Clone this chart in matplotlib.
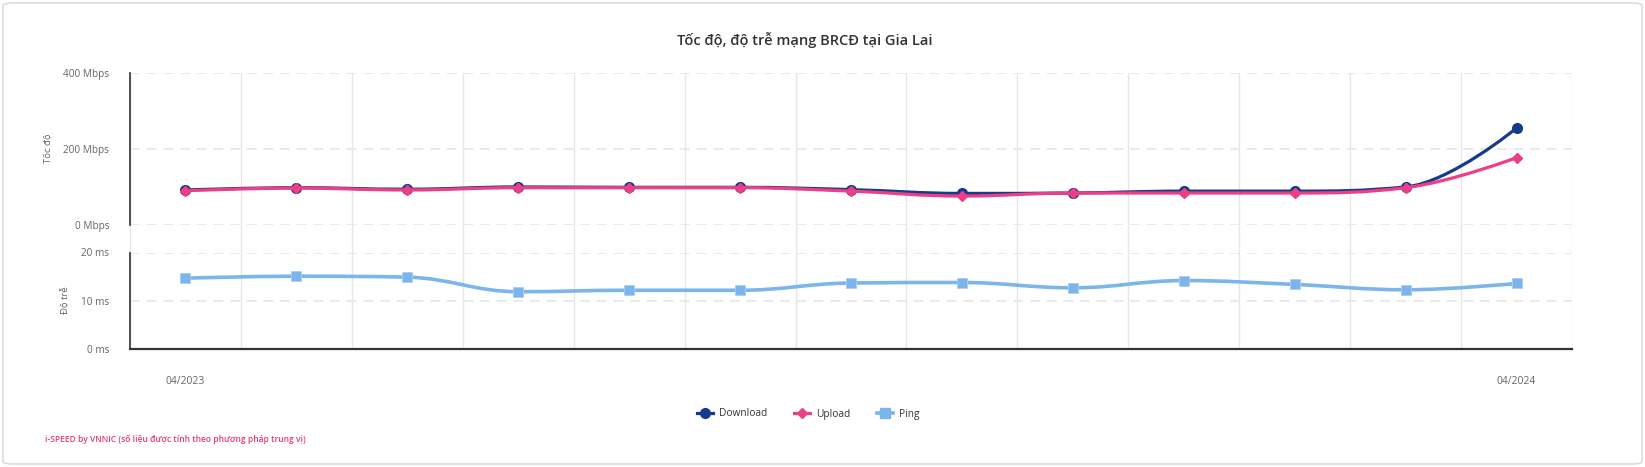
import matplotlib
matplotlib.use("Agg")
import matplotlib.pyplot as plt
from matplotlib.path import Path
from matplotlib.patches import PathPatch, FancyBboxPatch
from matplotlib.lines import Line2D

plt.rcParams['font.family'] = ['Open Sans', 'DejaVu Sans']

# Data
months = ["04/2023", "05/2023", "06/2023", "07/2023", "08/2023", "09/2023", "10/2023",
          "11/2023", "12/2023", "01/2024", "02/2024", "03/2024", "04/2024"]
download = [93, 99, 95, 101, 100, 100, 94, 84, 85, 90, 90, 101, 256]
upload = [91, 98, 93, 99, 99, 99, 90, 77, 85, 85, 85, 99, 178]
ping = [14.7, 15.1, 14.9, 11.9, 12.2, 12.2, 13.7, 13.8, 12.7, 14.2, 13.4, 12.3, 13.6]
shown_ticks = ["04/2023", "04/2024"]

title = "Tốc độ, độ trễ mạng BRCĐ tại Gia Lai"
footer = "i-SPEED by VNNIC (số liệu được tính theo phương pháp trung vị)"

c_down = "#163b8c"
c_up = "#ee3f86"
c_ping = "#7cb5ec"
grid_c = "#e6e6e6"
label_c = "#666666"

W, H = 1645, 467


def spline_path(xs, ys, smoothing=1.5):
    # highcharts-style spline: bezier control points from neighbours
    denom = smoothing + 1
    n = len(xs)
    lc = [None] * n
    rc = [None] * n
    for i in range(1, n - 1):
        px, py = xs[i], ys[i]
        lx, ly = xs[i - 1], ys[i - 1]
        nx, ny = xs[i + 1], ys[i + 1]
        lcx = (smoothing * px + lx) / denom
        lcy = (smoothing * py + ly) / denom
        rcx = (smoothing * px + nx) / denom
        rcy = (smoothing * py + ny) / denom
        if rcx != lcx:
            corr = (rcy - lcy) * (rcx - px) / (rcx - lcx) + py - rcy
            lcy += corr
            rcy += corr
        if lcy > ly and lcy > py:
            lcy = max(ly, py)
            rcy = 2 * py - lcy
        elif lcy < ly and lcy < py:
            lcy = min(ly, py)
            rcy = 2 * py - lcy
        if rcy > ny and rcy > py:
            rcy = max(ny, py)
            lcy = 2 * py - rcy
        elif rcy < ny and rcy < py:
            rcy = min(ny, py)
            lcy = 2 * py - rcy
        lc[i] = (lcx, lcy)
        rc[i] = (rcx, rcy)
    verts = [(xs[0], ys[0])]
    codes = [Path.MOVETO]
    for i in range(1, n):
        c1 = rc[i - 1] if rc[i - 1] is not None else (xs[i - 1], ys[i - 1])
        c2 = lc[i] if lc[i] is not None else (xs[i], ys[i])
        verts += [c1, c2, (xs[i], ys[i])]
        codes += [Path.CURVE4] * 3
    return Path(verts, codes)


def fx(px):
    return px / W


def fy(py):
    return 1 - py / H


fig = plt.figure(figsize=(W / 100, H / 100), dpi=100)
fig.patch.set_facecolor("white")

# rounded card border
fig.patches.append(FancyBboxPatch((fx(3), fy(464)), fx(1639), 461 / H,
                                  boxstyle="round,pad=0,rounding_size=0.006",
                                  transform=fig.transFigure, facecolor="white",
                                  edgecolor="#dcdcdc", linewidth=1.2, zorder=-10))

left, right = 130, 1572
xs = list(range(len(months)))

# background axes with vertical grid lines through both panels
bg = fig.add_axes([fx(left), fy(349.3), fx(right - left), (349.3 - 73.4) / H])
bg.set_xlim(-0.5, len(months) - 0.5)
bg.set_ylim(0, 1)
for i in range(len(months) + 1):
    bg.axvline(i - 0.5, color=grid_c, linewidth=1, zorder=0)
bg.axis("off")

ax1 = fig.add_axes([fx(left), fy(225.3), fx(right - left), (225.3 - 73.4) / H])
ax2 = fig.add_axes([fx(left), fy(349.3), fx(right - left), (349.3 - 252.5) / H])

for ax in (ax1, ax2):
    ax.set_facecolor("none")
    ax.set_xlim(-0.5, len(months) - 0.5)
    for s in ("top", "right"):
        ax.spines[s].set_visible(False)
    ax.spines["left"].set_color("#333333")
    ax.spines["left"].set_linewidth(1.2)
    ax.tick_params(axis="y", length=0, pad=15, labelsize=7.2, labelcolor=label_c)
    ax.yaxis.grid(True, color=grid_c, linestyle=(0, (6, 4)), linewidth=1.2)
    ax.set_axisbelow(True)

ax1.set_ylim(0, 400)
ax1.set_yticks([0, 200, 400])
ax1.set_yticklabels(["0 Mbps", "200 Mbps", "400 Mbps"])
ax1.spines["bottom"].set_visible(False)
ax1.set_xticks([])

ax2.set_ylim(0, 20)
ax2.set_yticks([0, 10, 20])
ax2.set_yticklabels(["0 ms", "10 ms", "20 ms"])
ax2.spines["bottom"].set_color("#333333")
ax2.spines["bottom"].set_linewidth(1.6)
ax2.set_xticks([xs[months.index(t)] for t in shown_ticks])
ax2.set_xticklabels(shown_ticks)
ax2.tick_params(axis="x", length=0, pad=19, labelsize=7.5, labelcolor=label_c)

# series
ax1.add_patch(PathPatch(spline_path(xs, download), facecolor="none", edgecolor=c_down,
                        linewidth=2.3, capstyle="round", joinstyle="round", zorder=3))
ax1.plot(xs, download, linestyle="none", marker="o", markersize=7, color=c_down, zorder=4)
ax1.add_patch(PathPatch(spline_path(xs, upload), facecolor="none", edgecolor=c_up,
                        linewidth=2.3, capstyle="round", joinstyle="round", zorder=5))
ax1.plot(xs, upload, linestyle="none", marker="D", markersize=5.5, color=c_up, zorder=6)
ax2.add_patch(PathPatch(spline_path(xs, ping), facecolor="none", edgecolor=c_ping,
                        linewidth=2.6, capstyle="round", joinstyle="round", zorder=3))
ax2.plot(xs, ping, linestyle="none", marker="s", markersize=7.5, color=c_ping,
         markeredgecolor="#a9cdf2", markeredgewidth=0.6, zorder=4)

# axis titles
fig.text(fx(49), fy(148), "Tốc độ", rotation=90, ha="center", va="center",
         fontsize=6.8, color=label_c)
fig.text(fx(65), fy(300), "Độ trễ", rotation=90, ha="center", va="center",
         fontsize=6.8, color=label_c)

fig.text(fx(805), fy(40), title, ha="center", va="center", fontsize=10.5,
         fontweight="semibold", color="#333333")

handles = [
    Line2D([], [], color=c_down, linewidth=2.3, marker="o", markersize=7),
    Line2D([], [], color=c_up, linewidth=2.3, marker="D", markersize=5.5),
    Line2D([], [], color=c_ping, linewidth=2.6, marker="s", markersize=7.5),
]
fig.legend(handles, ["Download", "Upload", "Ping"], loc="center",
           bbox_to_anchor=(fx(808), fy(414)), ncol=3, frameon=False,
           fontsize=7.3, labelcolor="#333333", handlelength=1.6,
           handletextpad=0.6, columnspacing=2.6)

fig.text(fx(45), fy(439), footer, ha="left", va="center", fontsize=6.1,
         fontweight="semibold", color="#e8397d")

fig.savefig("out.png", dpi=100, facecolor="white")
plt.close(fig)
